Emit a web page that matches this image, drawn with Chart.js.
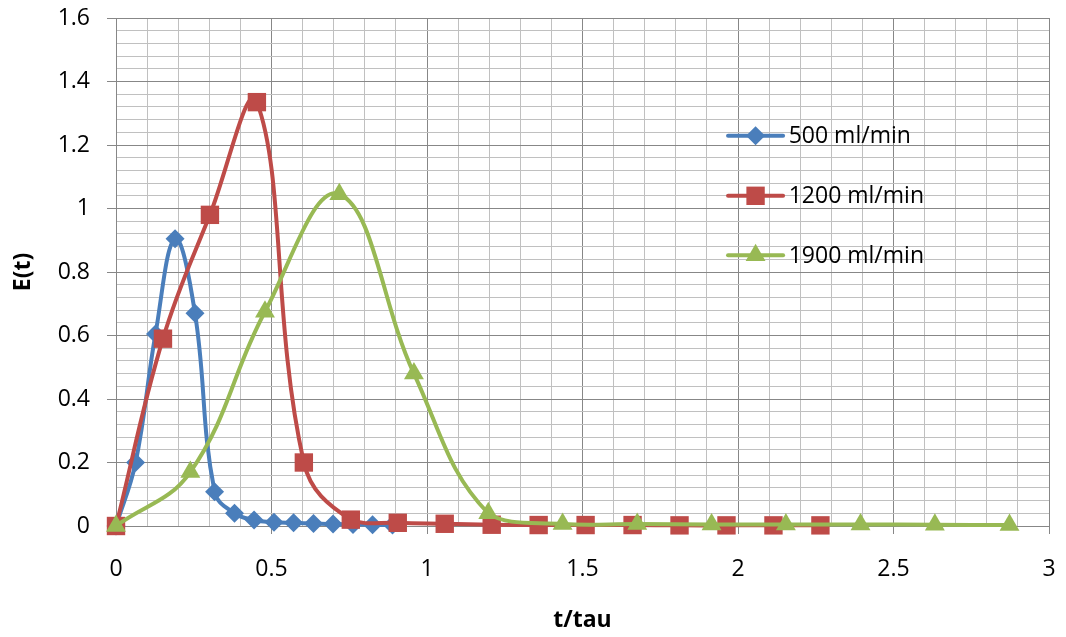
<!DOCTYPE html>
<html>
<head>
<meta charset="utf-8">
<script src="https://cdn.jsdelivr.net/npm/chart.js@4.4.1/dist/chart.umd.min.js"></script>
<style>
  html, body { margin: 0; padding: 0; background: #fff; }
  #wrap { width: 1066px; height: 637px; position: relative; }
</style>
</head>
<body>
<div id="wrap"><canvas id="rtdChart"></canvas></div>
<script>
/* =============================
   DATA
============================= */
const seriesNames = ["500 ml/min", "1200 ml/min", "1900 ml/min"];

const blueX = [0, 0.063, 0.127, 0.19, 0.254, 0.317, 0.381, 0.444, 0.508, 0.571, 0.635, 0.698, 0.762, 0.825, 0.889];
const blueY = [0, 0.2, 0.605, 0.905, 0.67, 0.108, 0.04, 0.019, 0.012, 0.01, 0.008, 0.006, 0.005, 0.004, 0.003];

const redX = [0, 0.151, 0.302, 0.453, 0.604, 0.755, 0.906, 1.057, 1.208, 1.359, 1.51, 1.661, 1.812, 1.963, 2.114, 2.265];
const redY = [0, 0.59, 0.98, 1.335, 0.2, 0.02, 0.01, 0.007, 0.004, 0.003, 0.003, 0.003, 0.002, 0.002, 0.002, 0.002];

const greenX = [0, 0.239, 0.479, 0.718, 0.958, 1.197, 1.436, 1.676, 1.915, 2.154, 2.394, 2.633, 2.873];
const greenY = [0, 0.17, 0.675, 1.045, 0.48, 0.04, 0.006, 0.006, 0.005, 0.005, 0.005, 0.004, 0.003];

const xTicksMajor = [0, 0.5, 1, 1.5, 2, 2.5, 3];
const yTicksMajor = [0, 0.2, 0.4, 0.6, 0.8, 1, 1.2, 1.4, 1.6];

/* =============================
   STYLE
============================= */
const COLORS = ["#4a7ebb", "#be4b48", "#98b954"];
const SHAPES = ["rectRot", "rect", "triangle"];
const RADII = [9.5, 13, 11.5];
const GRID_MAJOR = "#878787";
const GRID_MINOR = "#c0c0c0";
const FONT = "'Open Sans', 'Liberation Sans', sans-serif";

function toPoints(xs, ys) {
  return xs.map((x, i) => ({ x: x, y: ys[i] }));
}

function isMajor(v, list) {
  return list.some(m => Math.abs(m - v) < 1e-6);
}

// fixed axis boxes, no extra label padding around the plot
function fixBox(size, key) {
  return s => {
    s[key] = size;
    s.paddingTop = 0; s.paddingBottom = 0; s.paddingLeft = 0; s.paddingRight = 0;
  };
}

/* =============================
   LEGEND (inside the plot)
============================= */
function drawMarker(ctx, shape, x, y, r, color) {
  ctx.save();
  ctx.fillStyle = color;
  ctx.beginPath();
  if (shape === "rectRot") {
    ctx.moveTo(x, y - r); ctx.lineTo(x + r, y); ctx.lineTo(x, y + r); ctx.lineTo(x - r, y);
  } else if (shape === "rect") {
    const s = Math.SQRT1_2 * r;
    ctx.rect(x - s, y - s, 2 * s, 2 * s);
  } else {
    ctx.moveTo(x, y - r);
    ctx.lineTo(x + r * Math.sin(Math.PI * 2 / 3), y - r * Math.cos(Math.PI * 2 / 3));
    ctx.lineTo(x - r * Math.sin(Math.PI * 2 / 3), y - r * Math.cos(Math.PI * 2 / 3));
  }
  ctx.closePath();
  ctx.fill();
  ctx.restore();
}

const insideLegend = {
  id: "insideLegend",
  afterDatasetsDraw(chart) {
    const { ctx, chartArea: a } = chart;
    const w = a.right - a.left, h = a.bottom - a.top;
    const x1 = a.left + w * 0.656, x2 = a.left + w * 0.715, tx = a.left + w * 0.721;
    const rows = [0.232, 0.35, 0.467];
    ctx.save();
    seriesNames.forEach((name, i) => {
      const y = a.top + h * rows[i];
      ctx.strokeStyle = COLORS[i];
      ctx.lineWidth = 4;
      ctx.lineCap = "round";
      ctx.beginPath(); ctx.moveTo(x1, y); ctx.lineTo(x2, y); ctx.stroke();
      drawMarker(ctx, SHAPES[i], (x1 + x2) / 2, y, RADII[i], COLORS[i]);
      ctx.fillStyle = "#000";
      ctx.font = "23px " + FONT;
      ctx.textAlign = "left";
      ctx.textBaseline = "middle";
      ctx.fillText(name, tx, y + 1);
    });
    ctx.restore();
  }
};

/* =============================
   CHART
============================= */
const allData = [toPoints(blueX, blueY), toPoints(redX, redY), toPoints(greenX, greenY)];

const datasets = allData.map((pts, i) => ({
  label: seriesNames[i],
  data: pts,
  borderColor: COLORS[i],
  backgroundColor: COLORS[i],
  borderWidth: 4,
  pointStyle: SHAPES[i],
  pointRadius: RADII[i],
  pointHoverRadius: RADII[i],
  pointBorderWidth: 0,
  pointBackgroundColor: COLORS[i],
  tension: 0.4,
  clip: false,
  order: 2 - i
}));

new Chart(document.getElementById("rtdChart"), {
  type: "line",
  data: { datasets: datasets },
  plugins: [insideLegend],
  options: {
    responsive: true,
    maintainAspectRatio: false,
    animation: false,
    layout: { padding: { left: 0, right: 17, top: 18, bottom: 0 } },
    plugins: {
      legend: { display: false },
      tooltip: { enabled: false }
    },
    scales: {
      x: {
        type: "linear",
        min: 0,
        max: 3,
        afterFit: fixBox(111, "height"),
        ticks: {
          stepSize: 0.1,
          autoSkip: false,
          maxRotation: 0,
          maxTicksLimit: 100,
          padding: 22,
          color: "#000",
          font: { family: FONT, size: 23 },
          callback: v => isMajor(v, xTicksMajor) ? String(Math.round(v * 10) / 10) : ""
        },
        grid: {
          tickLength: 8,
          color: c => isMajor(c.tick.value, xTicksMajor) ? GRID_MAJOR : GRID_MINOR,
          tickColor: c => isMajor(c.tick.value, xTicksMajor) ? GRID_MAJOR : "rgba(0,0,0,0)"
        },
        border: { color: GRID_MAJOR },
        title: {
          display: true,
          text: "t/tau",
          color: "#000",
          font: { family: FONT, size: 23, weight: "bold" },
          padding: { top: 0, bottom: 3 }
        }
      },
      y: {
        min: 0,
        max: 1.6,
        afterFit: fixBox(116, "width"),
        ticks: {
          stepSize: 0.04,
          autoSkip: false,
          maxTicksLimit: 100,
          padding: 17,
          color: "#000",
          font: { family: FONT, size: 23 },
          callback: v => isMajor(v, yTicksMajor) ? String(Math.round(v * 10) / 10) : ""
        },
        grid: {
          tickLength: 9,
          color: c => isMajor(c.tick.value, yTicksMajor) ? GRID_MAJOR : GRID_MINOR,
          tickColor: c => isMajor(c.tick.value, yTicksMajor) ? GRID_MAJOR : "rgba(0,0,0,0)"
        },
        border: { color: GRID_MAJOR },
        title: {
          display: true,
          text: "E(t)",
          color: "#000",
          font: { family: FONT, size: 23, weight: "bold" },
          padding: { top: 10, bottom: 0 }
        }
      }
    }
  }
});
</script>
</body>
</html>
